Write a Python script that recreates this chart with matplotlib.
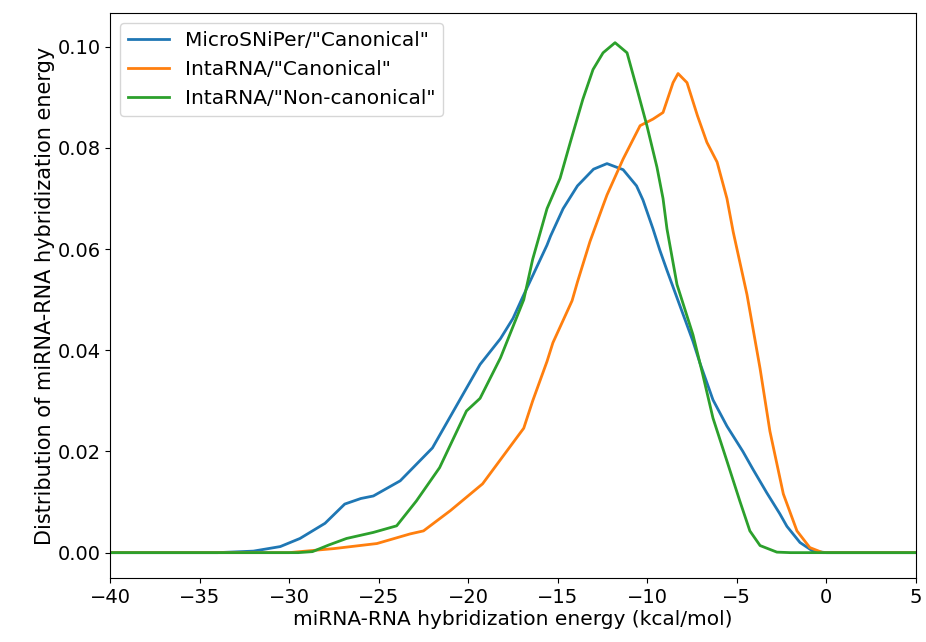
import numpy as np
import matplotlib
matplotlib.use("Agg")
import matplotlib.pyplot as plt

# values (energy in kcal/mol, density)
micro_x = [-40, -34, -32, -30.5, -29.4, -28, -26.9, -26.0, -25.3, -23.8, -22.0, -20.1, -19.34,
           -18.2, -17.5, -17.0, -15.6, -15.4, -14.7, -13.9, -13.0, -12.25, -11.35, -10.6,
           -10.24, -9.68, -9.3, -8.9, -8.3, -7.45, -7.06, -6.33, -5.55, -4.66, -4.1, -3.32, -2.6,
           -2.2, -1.47, -0.75, 0, 5]
micro_y = [0, 0, 0.0003, 0.0012, 0.0028, 0.0058, 0.0096, 0.0107, 0.0112, 0.0142, 0.0207, 0.0325, 0.0372,
           0.0423, 0.0463, 0.0502, 0.0608, 0.0626, 0.0680, 0.0725, 0.0758, 0.0769, 0.0757, 0.0725,
           0.0697, 0.0640, 0.0598, 0.0558, 0.0500, 0.0418, 0.0375, 0.0302, 0.0250, 0.0200, 0.0165, 0.0118, 0.0077,
           0.0052, 0.0020, 0.0003, 0, 0]

inta_can_x = [-40, -30, -29.4, -27.5, -25.1, -23.25, -22.5, -21.0, -19.2, -16.9, -16.4, -15.6,
              -15.27, -14.2, -13.9, -13.2, -12.47, -12.25, -11.35, -10.4, -9.68, -9.12,
              -8.56, -8.28, -7.78, -7.2, -6.67, -6.1, -5.55, -5.2, -4.43, -3.7, -3.15,
              -2.4, -1.64, -0.92, -0.2, 5]
inta_can_y = [0, 0, 0.0002, 0.0008, 0.0018, 0.0037, 0.0043, 0.0083, 0.0136, 0.0246, 0.0300, 0.0378,
              0.0415, 0.0498, 0.0535, 0.0615, 0.0686, 0.0707, 0.0778, 0.0844, 0.0857, 0.0870,
              0.0929, 0.0947, 0.0929, 0.0864, 0.0811, 0.0772, 0.0700, 0.0634, 0.0510, 0.0364, 0.0240,
              0.0116, 0.0043, 0.0010, 0, 0]

inta_non_x = [-40, -29.5, -28.7, -27.8, -26.8, -25.3, -24.0, -22.9, -21.6, -20.1, -19.34, -18.2,
              -16.9, -16.4, -16.0, -15.6, -14.87, -14.3, -13.6, -13.03, -12.47, -11.8, -11.13,
              -10.6, -10.02, -9.46, -9.12, -8.9, -8.34, -7.45, -6.9, -6.33, -5.55, -4.83, -4.27,
              -3.7, -2.76, -2.0, 5]
inta_non_y = [0, 0, 0.0002, 0.0015, 0.0028, 0.0040, 0.0053, 0.0102, 0.0168, 0.0280, 0.0305, 0.0385,
              0.0500, 0.0580, 0.0630, 0.0680, 0.0740, 0.0811, 0.0896, 0.0955, 0.0988, 0.1008, 0.0988,
              0.0920, 0.0844, 0.0762, 0.0700, 0.0640, 0.0530, 0.0431, 0.0352, 0.0266, 0.0181, 0.0102, 0.0043,
              0.0014, 0.0001, 0, 0]

labels = ['MicroSNiPer/"Canonical"', 'IntaRNA/"Canonical"', 'IntaRNA/"Non-canonical"']

fig, ax = plt.subplots(figsize=(9.26, 6.42), dpi=100)
fig.subplots_adjust(left=0.119, right=0.989, top=0.98, bottom=0.099)

ax.plot(micro_x, micro_y, color='#1f77b4', linewidth=2, label=labels[0])
ax.plot(inta_can_x, inta_can_y, color='#ff7f0e', linewidth=2, label=labels[1])
ax.plot(inta_non_x, inta_non_y, color='#2ca02c', linewidth=2, label=labels[2])

ax.set_xlim(-40, 5)
ax.set_ylim(-0.0051, 0.1067)
ax.set_xticks(np.arange(-40, 6, 5))
ax.set_yticks([0, 0.02, 0.04, 0.06, 0.08, 0.10])
ax.set_yticklabels(['0.00', '0.02', '0.04', '0.06', '0.08', '0.10'])
ax.tick_params(labelsize=14)

ax.set_xlabel('miRNA-RNA hybridization energy (kcal/mol)', fontsize=14.5, labelpad=2)
ax.set_ylabel('Distribution of miRNA-RNA hybridization energy', fontsize=15, labelpad=2)
ax.legend(loc='upper left', fontsize=14.5)

fig.savefig('out.png', dpi=100)
